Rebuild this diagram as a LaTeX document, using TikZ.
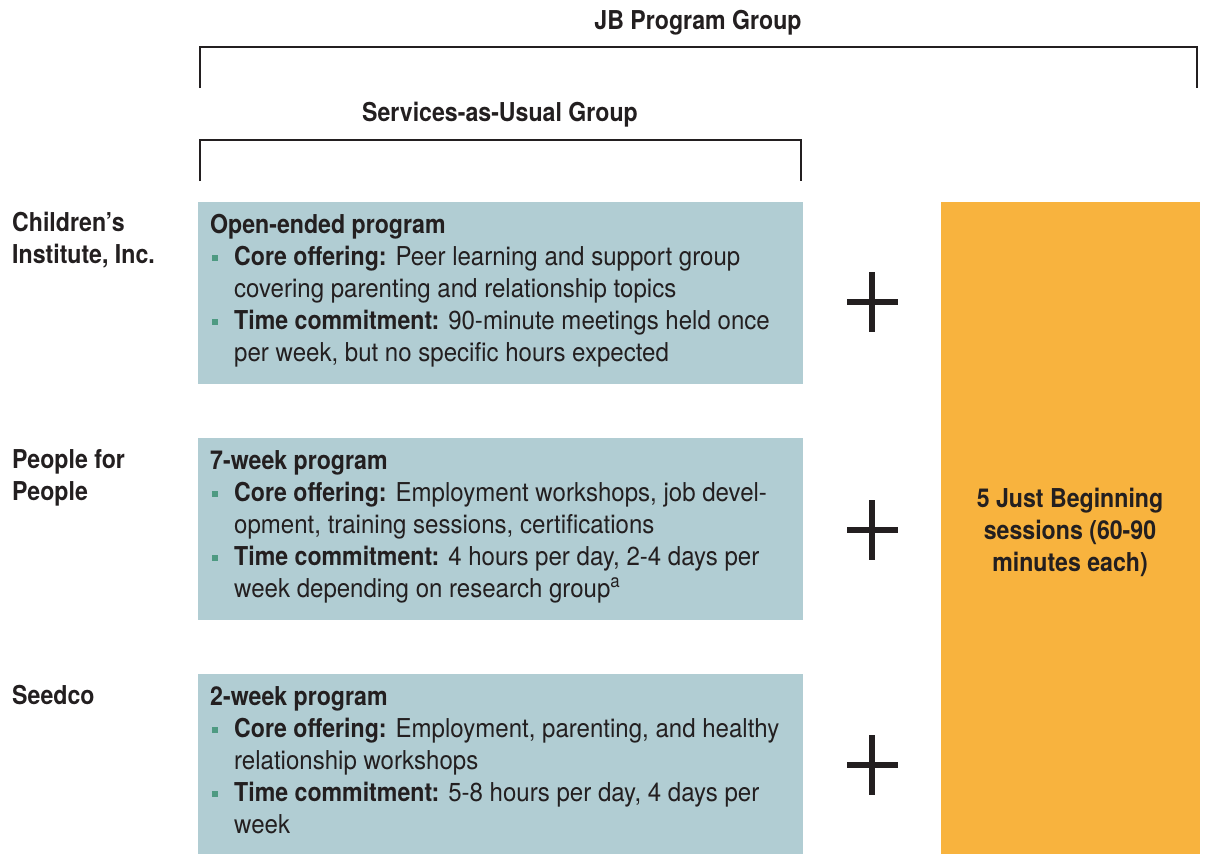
\documentclass[tikz,border=0pt]{standalone}
\usepackage{fontspec}
\setmainfont{TeX Gyre Heros}[FakeStretch=0.925, BoldFeatures={FakeStretch=0.89}]
\definecolor{boxc}{HTML}{B1CDD3}
\definecolor{orangec}{HTML}{F8B33E}
\definecolor{inkc}{HTML}{231F20}
\definecolor{bulc}{HTML}{4E9A82}
\tikzset{
  txt/.style={inner sep=0pt, anchor=base west, text=inkc, font=\fontsize{26}{32}\selectfont},
  btxt/.style={txt, font=\fontsize{26}{32}\selectfont\bfseries},
  ctxt/.style={btxt, anchor=base},
  bul/.style={fill=bulc, inner sep=0pt, minimum size=6pt, draw=none},
  sbox/.style={fill=boxc, draw=none},
  brk/.style={draw=inkc, line width=2pt},
  plussign/.style={draw=inkc, line width=6pt}
}
\begin{document}
\begin{tikzpicture}[x=1pt,y=-1pt]
\useasboundingbox (0,0) rectangle (1205,854);
% titles and brackets
\node[ctxt] (jb) at (698,29) {JB Program Group};
\draw[brk] (200,88) -- (200,47) -- (1197,47) -- (1197,88);
\node[ctxt] (sau) at (500,121) {Services-as-Usual Group};
\draw[brk] (200,181) -- (200,140) -- (801,140) -- (801,181);
% boxes
\fill[sbox] (198,202) rectangle (803,384);
\fill[sbox] (198,438) rectangle (803,620);
\fill[sbox] (198,674) rectangle (803,854);
\fill[orangec] (941,202) rectangle (1200,854);
% left labels
\node[btxt] (l1a) at (12,231) {Children’s};
\node[btxt] (l1b) at (12,263) {Institute, Inc.};
\node[btxt] (l2a) at (12,468) {People for};
\node[btxt] (l2b) at (12,500) {People};
\node[btxt] (l3a) at (12,704) {Seedco};
% box 1
\node[btxt] (a0) at (210,233) {Open-ended program};
\node[bul] (ab1) at (215,258) {};
\node[txt] (a1) at (234,265) {\textbf{Core offering:} Peer learning and support group};
\node[txt] (a2) at (234,297) {covering parenting and relationship topics};
\node[bul] (ab2) at (215,322) {};
\node[txt] (a3) at (234,329) {\textbf{Time commitment:} 90-minute meetings held once};
\node[txt] (a4) at (234,361) {per week, but no specific hours expected};
% box 2
\node[btxt] (b0) at (210,469) {7-week program};
\node[bul] (bb1) at (215,494) {};
\node[txt] (b1) at (234,501) {\textbf{Core offering:} Employment workshops, job devel-};
\node[txt] (b2) at (234,533) {opment, training sessions, certifications};
\node[bul] (bb2) at (215,558) {};
\node[txt] (b3) at (234,565) {\textbf{Time commitment:} 4 hours per day, 2-4 days per};
\node[txt] (b4) at (234,597) {week depending on research group\textsuperscript{a}};
% box 3
\node[btxt] (c0) at (210,705) {2-week program};
\node[bul] (cb1) at (215,730) {};
\node[txt] (c1) at (234,737) {\textbf{Core offering:} Employment, parenting, and healthy};
\node[txt] (c2) at (234,769) {relationship workshops};
\node[bul] (cb2) at (215,794) {};
\node[txt] (c3) at (234,801) {\textbf{Time commitment:} 5-8 hours per day, 4 days per};
\node[txt] (c4) at (234,833) {week};
% orange text
\node[ctxt] (o1) at (1070,507) {5 Just Beginning};
\node[ctxt] (o2) at (1070,539) {sessions (60-90};
\node[ctxt] (o3) at (1070,571) {minutes each)};
% plus signs
\foreach \yy in {302,530,765}{
  \draw[plussign] (872,\yy-30) -- (872,\yy+30);
  \draw[plussign] (847,\yy) -- (898,\yy);
}
\end{tikzpicture}
\end{document}
